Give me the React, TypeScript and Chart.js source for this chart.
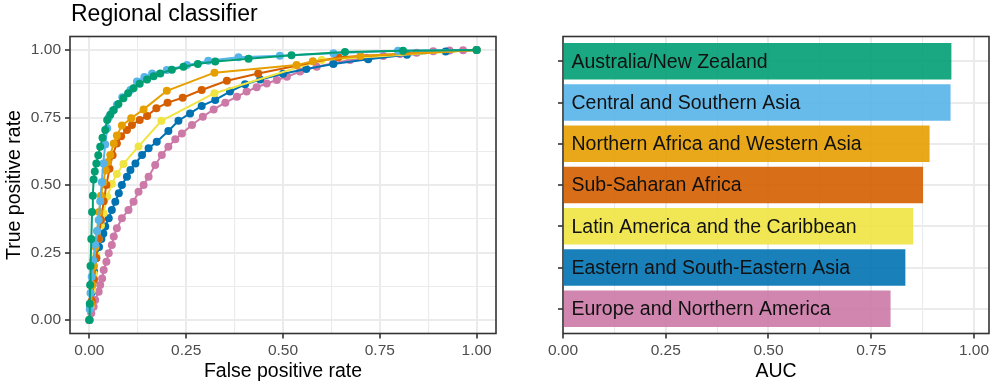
import React, { useEffect, useRef } from "react";
import { Chart, registerables } from "chart.js";
Chart.register(...registerables);

const FONT = "'Liberation Sans', Arial, Helvetica, sans-serif";

const regions = [
  "Australia/New Zealand",
  "Central and Southern Asia",
  "Northern Africa and Western Asia",
  "Sub-Saharan Africa",
  "Latin America and the Caribbean",
  "Eastern and South-Eastern Asia",
  "Europe and Northern America",
];
const colors = ["#009E73", "#56B4E9", "#E69F00", "#D55E00", "#F0E442", "#0072B2", "#CC79A7"];
const barColors = [
  "rgba(0,158,115,0.9)",
  "rgba(86,180,233,0.9)",
  "rgba(230,159,0,0.9)",
  "rgba(213,94,0,0.9)",
  "rgba(240,228,66,0.9)",
  "rgba(0,114,178,0.9)",
  "rgba(204,121,167,0.9)",
];
const auc = [0.945, 0.943, 0.892, 0.876, 0.852, 0.833, 0.797];

const majorTicks = [0, 0.25, 0.5, 0.75, 1];
const minorTicks = [0.125, 0.375, 0.625, 0.875];
const tickLabels = ["0.00", "0.25", "0.50", "0.75", "1.00"];

// ROC curves (false positive rate, true positive rate)
const fprAustralia = [0, 0.001, 0.002, 0.003, 0.005, 0.007, 0.009, 0.011, 0.014, 0.018, 0.023, 0.028, 0.034, 0.041, 0.046, 0.054, 0.063, 0.075, 0.088, 0.1, 0.114, 0.13, 0.149, 0.166, 0.183, 0.213, 0.243, 0.28, 0.325, 0.411, 0.522, 0.66, 0.81, 1.0];
const tprAustralia = [0, 0.06, 0.13, 0.2, 0.3, 0.4, 0.46, 0.52, 0.55, 0.58, 0.61, 0.642, 0.675, 0.704, 0.741, 0.76, 0.778, 0.8, 0.821, 0.84, 0.858, 0.875, 0.891, 0.903, 0.913, 0.927, 0.938, 0.948, 0.957, 0.968, 0.981, 0.993, 0.997, 1.0];

const fprCentral = [0, 0.001, 0.003, 0.006, 0.01, 0.015, 0.02, 0.024, 0.028, 0.032, 0.036, 0.041, 0.046, 0.05, 0.06, 0.071, 0.085, 0.106, 0.123, 0.142, 0.162, 0.2, 0.252, 0.307, 0.385, 0.492, 0.63, 0.797, 1.0];
const tprCentral = [0, 0.04, 0.1, 0.16, 0.22, 0.28, 0.33, 0.37, 0.44, 0.51, 0.58, 0.65, 0.71, 0.75, 0.775, 0.796, 0.825, 0.852, 0.883, 0.9, 0.913, 0.926, 0.944, 0.96, 0.973, 0.979, 0.988, 0.997, 1.0];

const fprNorthAfrica = [0, 0.004, 0.008, 0.012, 0.016, 0.02, 0.025, 0.03, 0.036, 0.042, 0.048, 0.054, 0.063, 0.071, 0.084, 0.108, 0.14, 0.2, 0.323, 0.535, 0.577, 0.7, 1.0];
const tprNorthAfrica = [0, 0.06, 0.13, 0.2, 0.27, 0.33, 0.4, 0.46, 0.51, 0.555, 0.585, 0.611, 0.654, 0.683, 0.72, 0.747, 0.78, 0.849, 0.916, 0.944, 0.958, 0.978, 1.0];

const fprSubSaharan = [0, 0.006, 0.012, 0.018, 0.024, 0.03, 0.037, 0.044, 0.052, 0.06, 0.071, 0.082, 0.097, 0.11, 0.13, 0.149, 0.173, 0.202, 0.241, 0.29, 0.355, 0.436, 0.643, 1.0];
const tprSubSaharan = [0, 0.07, 0.15, 0.23, 0.3, 0.37, 0.44, 0.5, 0.56, 0.61, 0.654, 0.681, 0.704, 0.722, 0.741, 0.756, 0.784, 0.805, 0.823, 0.852, 0.886, 0.913, 0.973, 1.0];

const fprLatin = [0, 0.003, 0.007, 0.012, 0.018, 0.024, 0.03, 0.037, 0.046, 0.058, 0.071, 0.088, 0.127, 0.186, 0.323, 0.6, 1.0];
const tprLatin = [0, 0.05, 0.11, 0.17, 0.24, 0.3, 0.35, 0.395, 0.457, 0.504, 0.541, 0.578, 0.643, 0.738, 0.84, 0.963, 1.0];

const fprEastAsia = [0, 0.002, 0.005, 0.008, 0.012, 0.018, 0.025, 0.031, 0.036, 0.041, 0.05, 0.058, 0.067, 0.076, 0.084, 0.097, 0.106, 0.119, 0.136, 0.153, 0.174, 0.204, 0.23, 0.26, 0.29, 0.325, 0.363, 0.402, 0.441, 0.5, 0.56, 0.63, 0.72, 0.82, 0.92, 1.0];
const tprEastAsia = [0, 0.05, 0.1, 0.14, 0.18, 0.23, 0.27, 0.3, 0.32, 0.346, 0.377, 0.407, 0.438, 0.469, 0.5, 0.531, 0.556, 0.58, 0.611, 0.636, 0.66, 0.7, 0.738, 0.765, 0.793, 0.815, 0.846, 0.873, 0.891, 0.912, 0.93, 0.948, 0.966, 0.982, 0.994, 1.0];

const fprEurope = [0, 0.005, 0.011, 0.015, 0.024, 0.028, 0.033, 0.037, 0.044, 0.05, 0.058, 0.063, 0.071, 0.084, 0.101, 0.114, 0.127, 0.14, 0.153, 0.17, 0.187, 0.204, 0.222, 0.239, 0.265, 0.293, 0.321, 0.351, 0.381, 0.406, 0.432, 0.458, 0.484, 0.51, 0.544, 0.587, 0.63, 0.673, 0.716, 0.759, 0.802, 0.845, 0.888, 0.93, 0.965, 1.0];
const tprEurope = [0, 0.025, 0.049, 0.074, 0.105, 0.13, 0.154, 0.185, 0.216, 0.247, 0.278, 0.309, 0.34, 0.377, 0.407, 0.438, 0.475, 0.5, 0.531, 0.574, 0.611, 0.642, 0.669, 0.691, 0.722, 0.753, 0.78, 0.805, 0.827, 0.846, 0.862, 0.876, 0.889, 0.901, 0.92, 0.938, 0.951, 0.963, 0.971, 0.978, 0.985, 0.99, 0.995, 0.998, 0.999, 1.0];

const rocFpr = [fprAustralia, fprCentral, fprNorthAfrica, fprSubSaharan, fprLatin, fprEastAsia, fprEurope];
const rocTpr = [tprAustralia, tprCentral, tprNorthAfrica, tprSubSaharan, tprLatin, tprEastAsia, tprEurope];

const allTicks = [...majorTicks, ...minorTicks].sort((a, b) => a - b);
const isMajor = (v: any) => typeof v === "number" && majorTicks.some((m) => Math.abs(m - v) < 1e-9);
const labelFor = (v: number) => {
  const i = majorTicks.findIndex((m) => Math.abs(m - v) < 1e-9);
  return i >= 0 ? tickLabels[i] : "";
};

const GRID = "#EBEBEB";
const DARK = "#333333";
const TICKTEXT = "#4D4D4D";
const TICK_FONT = { family: FONT, size: 15.5 };

function contGrid() {
  return {
    color: GRID,
    lineWidth: (c: any) => (isMajor(c.tick && c.tick.value) ? 2 : 1.1),
    tickColor: (c: any) => (isMajor(c.tick && c.tick.value) ? DARK : "rgba(0,0,0,0)"),
    tickLength: 5,
    tickWidth: 1.6,
    drawTicks: true,
    offset: false,
  };
}

function frameTitles(opts: { title?: string; xTitle: string; yTitle?: string; barLabels?: boolean }) {
  return {
    id: "frameTitles",
    afterDatasetsDraw(chart: any) {
      if (!opts.barLabels) return;
      const ctx = chart.ctx;
      const meta = chart.getDatasetMeta(0);
      const x0 = chart.scales.x.getPixelForValue(0);
      ctx.save();
      ctx.font = `19.5px ${FONT}`;
      ctx.fillStyle = "#111111";
      ctx.textAlign = "left";
      ctx.textBaseline = "middle";
      meta.data.forEach((el: any, i: number) => {
        ctx.fillText(regions[i], x0 + 8.5, el.y + 1);
      });
      ctx.restore();
    },
    afterDraw(chart: any) {
      const ctx = chart.ctx;
      const a = chart.chartArea;
      ctx.save();
      ctx.strokeStyle = DARK;
      ctx.lineWidth = 1.6;
      ctx.strokeRect(a.left, a.top, a.right - a.left, a.bottom - a.top);
      ctx.fillStyle = "#000000";
      if (opts.title) {
        ctx.font = `23px ${FONT}`;
        ctx.textAlign = "left";
        ctx.textBaseline = "alphabetic";
        ctx.fillText(opts.title, 71, 21);
      }
      ctx.font = `19.5px ${FONT}`;
      ctx.textAlign = "center";
      ctx.textBaseline = "alphabetic";
      ctx.fillText(opts.xTitle, (a.left + a.right) / 2, 377);
      if (opts.yTitle) {
        ctx.translate(20, (a.top + a.bottom) / 2);
        ctx.rotate(-Math.PI / 2);
        ctx.fillText(opts.yTitle, 0, 0);
      }
      ctx.restore();
    },
  };
}

function RocChart() {
  const ref = useRef<HTMLCanvasElement | null>(null);
  useEffect(() => {
    if (!ref.current) return;
    const datasets = regions.map((r, i) => ({
      label: r,
      data: rocFpr[i].map((x, j) => ({ x, y: rocTpr[i][j] })),
      borderColor: colors[i],
      backgroundColor: colors[i],
      pointBackgroundColor: colors[i],
      pointBorderWidth: 0,
      pointRadius: 4,
      borderWidth: 2,
      showLine: true,
      tension: 0,
    }));
    const chart = new Chart(ref.current, {
      type: "scatter",
      data: { datasets },
      options: {
        responsive: false,
        animation: false,
        layout: { padding: { top: 36.5, right: 4, left: 0, bottom: 0 } },
        plugins: { legend: { display: false }, tooltip: { enabled: false }, title: { display: false } },
        scales: {
          x: {
            type: "linear",
            min: -0.05,
            max: 1.05,
            afterBuildTicks: (s: any) => { s.ticks = allTicks.map((v) => ({ value: v })); },
            afterFit: (s: any) => { s.height = 54.5; },
            ticks: { callback: (v: any) => labelFor(v), color: TICKTEXT, font: TICK_FONT, padding: 3, autoSkip: false, maxRotation: 0 },
            grid: contGrid(),
            border: { display: false },
          },
          y: {
            type: "linear",
            min: -0.05,
            max: 1.05,
            afterBuildTicks: (s: any) => { s.ticks = allTicks.map((v) => ({ value: v })); },
            afterFit: (s: any) => { s.width = 70; },
            ticks: { callback: (v: any) => labelFor(v), color: TICKTEXT, font: TICK_FONT, padding: 4, autoSkip: false },
            grid: contGrid(),
            border: { display: false },
          },
        },
      },
      plugins: [frameTitles({ title: "Regional classifier", xTitle: "False positive rate", yTitle: "True positive rate" })],
    } as any);
    return () => chart.destroy();
  }, []);
  return <canvas ref={ref} width={500} height={388} style={{ position: "absolute", left: 0, top: 0 }} />;
}

function AucChart() {
  const ref = useRef<HTMLCanvasElement | null>(null);
  useEffect(() => {
    if (!ref.current) return;
    const chart = new Chart(ref.current, {
      type: "bar",
      data: {
        datasets: [
          {
            label: "AUC",
            data: auc.map((v, i) => ({ x: v, y: i })),
            backgroundColor: barColors,
            borderWidth: 0,
            categoryPercentage: 0.89,
            barPercentage: 1,
          },
        ],
      },
      options: {
        indexAxis: "y",
        responsive: false,
        animation: false,
        layout: { padding: { top: 36.5, right: 11, left: 0, bottom: 0 } },
        plugins: { legend: { display: false }, tooltip: { enabled: false }, title: { display: false } },
        scales: {
          x: {
            type: "linear",
            min: 0,
            max: 1.0365,
            afterBuildTicks: (s: any) => { s.ticks = allTicks.map((v) => ({ value: v })); },
            afterFit: (s: any) => { s.height = 54.5; },
            ticks: { callback: (v: any) => labelFor(v), color: TICKTEXT, font: TICK_FONT, padding: 3, autoSkip: false, maxRotation: 0 },
            grid: contGrid(),
            border: { display: false },
          },
          y: {
            type: "linear",
            reverse: true,
            offset: false,
            min: -0.6,
            max: 6.6,
            afterBuildTicks: (s: any) => { s.ticks = regions.map((_, i) => ({ value: i })); },
            afterFit: (s: any) => { s.width = 63; },
            ticks: { callback: () => "", autoSkip: false, padding: 0 },
            grid: { color: GRID, lineWidth: 2, tickColor: DARK, tickLength: 5, tickWidth: 1.6, offset: false },
            border: { display: false },
          },
        },
      },
      plugins: [frameTitles({ xTitle: "AUC", barLabels: true })],
    } as any);
    return () => chart.destroy();
  }, []);
  return <canvas ref={ref} width={500} height={388} style={{ position: "absolute", left: 500, top: 0 }} />;
}

export default function App() {
  return (
    <div style={{ position: "fixed", left: 0, top: 0, width: 1000, height: 388, background: "#ffffff", overflow: "hidden" }}>
      <RocChart />
      <AucChart />
    </div>
  );
}
